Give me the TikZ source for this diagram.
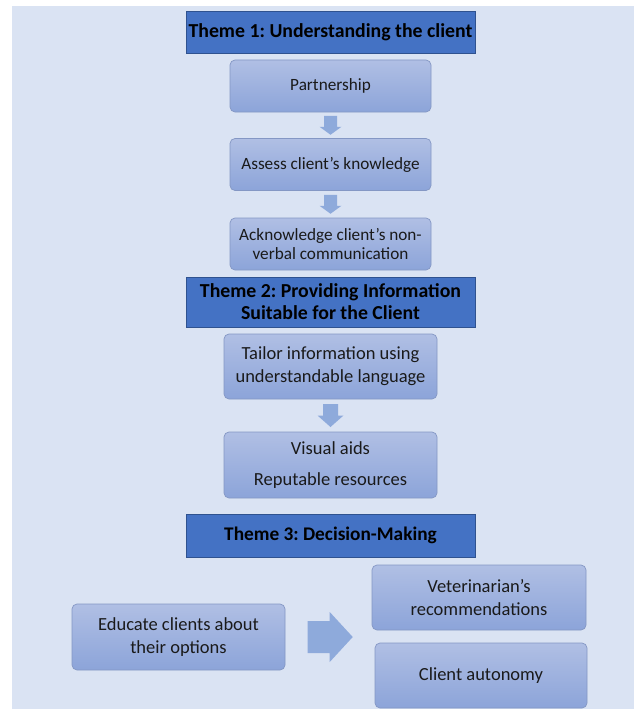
\documentclass[tikz,border=0pt]{standalone}
\usepackage{fontspec}
\setmainfont{Carlito}
\usetikzlibrary{calc}
\definecolor{panel}{HTML}{DAE3F3}
\definecolor{themefill}{HTML}{4472C4}
\definecolor{themeline}{HTML}{2F528F}
\definecolor{boxtop}{HTML}{B0BFE4}
\definecolor{boxbot}{HTML}{8CA4D9}
\definecolor{boxline}{HTML}{8497C4}
\definecolor{arrowfill}{HTML}{8EAADB}
\definecolor{ink}{HTML}{1A1A1A}
\frenchspacing
\begin{document}
\begin{tikzpicture}[x=1pt,y=-1pt,
  themebox/.style={draw=themeline, line width=0.8pt, fill=themefill, text=black,
    font=\bfseries\fontsize{19.8}{22}\selectfont, align=center, inner sep=0pt,
    minimum width=289pt},
  itembox/.style={draw=boxline, line width=0.7pt, rounded corners=5pt,
    top color=boxtop, bottom color=boxbot, text=ink, align=center, inner sep=0pt},
  smalltext/.style={font=\fontsize{17.2}{19.5}\selectfont},
  bigtext/.style={font=\fontsize{18.5}{23}\selectfont},
  blockarrow/.style={fill=arrowfill, draw=none},
  downsmall/.pic={\fill[blockarrow] (-6.5,-9.5) -- (6.5,-9.5) -- (6.5,1.5) -- (11,1.5)
      -- (0,9.5) -- (-11,1.5) -- (-6.5,1.5) -- cycle;},
  downbig/.pic={\fill[blockarrow] (-7.5,-11.5) -- (7.5,-11.5) -- (7.5,0) -- (13,0)
      -- (0,11.5) -- (-13,0) -- (-7.5,0) -- cycle;},
  rightbig/.pic={\fill[blockarrow] (-22.5,-16) -- (-0.5,-16) -- (-0.5,-25) -- (22.5,0)
      -- (-0.5,25) -- (-0.5,16) -- (-22.5,16) -- cycle;},
]
\useasboundingbox (0,0) rectangle (634,709);
\fill[white] (0,0) rectangle (634,709);
\fill[panel] (12,6) rectangle (634,709);

% Theme 1
\node[themebox, minimum height=42pt] (t1) at (330.5,32) {Theme 1: Understanding the client};
\node[itembox, smalltext, minimum width=201pt, minimum height=52pt] (p1) at (330.5,86) {Partnership};
\node[itembox, smalltext, minimum width=201pt, minimum height=52pt] (p2) at (330.5,164.5) {Assess client’s knowledge};
\node[itembox, smalltext, minimum width=201pt, minimum height=52pt] (p3) at (330.5,244) {Acknowledge client’s non-\\verbal communication};

\coordinate (m1) at ($(p1.south)!0.5!(p2.north)$);
\coordinate (m2) at ($(p2.south)!0.5!(p3.north)$);
\pic at (m1) {downsmall};
\pic at (m2) {downsmall};

% Theme 2
\node[themebox, minimum height=50pt] (t2) at (330.5,302) {Theme 2: Providing Information\\Suitable for the Client};
\node[itembox, bigtext, minimum width=213pt, minimum height=65pt] (p4) at (330.5,366.5) {Tailor information using\\understandable language};
\node[itembox, font=\fontsize{18.5}{31}\selectfont, minimum width=213pt, minimum height=66pt] (p5) at (330.5,465) {Visual aids\\Reputable resources};
\coordinate (m3) at ($(p4.south)!0.5!(p5.north)$);
\pic at (m3) {downbig};

% Theme 3
\node[themebox, font=\bfseries\fontsize{19.3}{22}\selectfont, minimum height=43pt] (t3) at (330.5,535.5) {Theme 3: Decision-Making};
\node[itembox, bigtext, minimum width=213pt, minimum height=66pt] (edu) at (178.5,637) {Educate clients about\\their options};
\node[itembox, bigtext, minimum width=214pt, minimum height=65pt] (vet) at (479,597.5) {Veterinarian’s\\recommendations};
\node[itembox, bigtext, minimum width=212pt, minimum height=65pt] (aut) at (481,675.5) {Client autonomy};
\coordinate (m4) at ($(edu.east)!0.52!(edu.east -| vet.west)$);
\pic at (m4) {rightbig};
\end{tikzpicture}
\end{document}
